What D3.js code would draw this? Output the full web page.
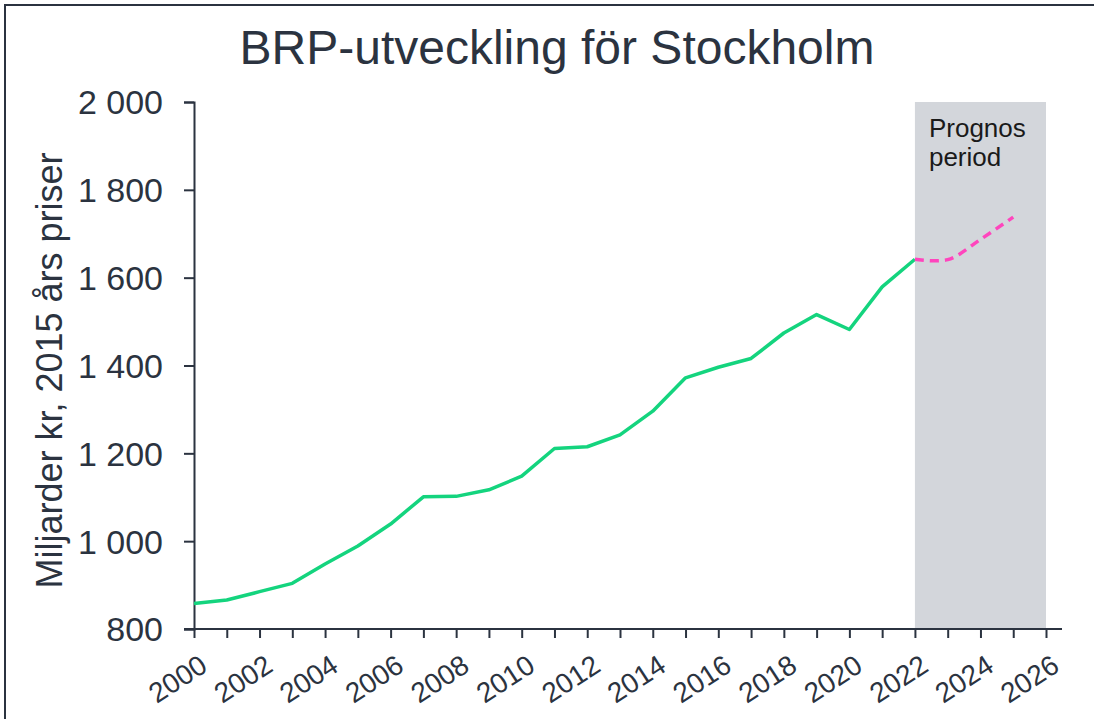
<!DOCTYPE html>
<html>
<head>
<meta charset="utf-8">
<script src="https://cdn.jsdelivr.net/npm/d3@7"></script>
<style>
  body { margin: 0; background: #fff; }
  text { font-family: "Liberation Sans", Arial, sans-serif; fill: #2b3340; }
</style>
</head>
<body>
<div id="container"></div>
<script>
// Historical BRP (billion SEK, 2015 prices)
const years = d3.range(2000, 2023);
const brp = [858, 866, 885, 904, 948, 989, 1039, 1101, 1102, 1117, 1148, 1211, 1215,
             1242, 1296, 1372, 1396, 1416, 1474, 1516, 1482, 1579, 1642];
// Forecast
const forecastYears = [2022, 2023, 2024, 2025];
const forecast = [1642, 1641, 1687, 1738];
const yTicks = [800, 1000, 1200, 1400, 1600, 1800, 2000];
const forecastPeriod = [2022, 2026];

const width = 1094, height = 719;
const margin = { top: 102, right: 48, bottom: 89, left: 194 };

const svg = d3.select("#container").append("svg")
    .attr("width", width)
    .attr("height", height);

// Outer frame
svg.append("rect")
    .attr("x", 5).attr("y", 5)
    .attr("width", width + 20).attr("height", height + 20)
    .attr("fill", "none")
    .attr("stroke", "#2b3340")
    .attr("stroke-width", 2);

const x = d3.scaleLinear()
    .domain([2000, 2026])
    .range([margin.left, 1046]);

const y = d3.scaleLinear()
    .domain([800, 2000])
    .range([height - margin.bottom - 1, margin.top]);

// Forecast shading
svg.append("rect")
    .attr("x", x(forecastPeriod[0]))
    .attr("y", y(2000))
    .attr("width", x(forecastPeriod[1]) - x(forecastPeriod[0]))
    .attr("height", y(800) - y(2000))
    .attr("fill", "#d3d6db");

svg.append("text")
    .attr("y", 137)
    .style("font-size", "26px")
    .style("fill", "#1a1a1a")
    .selectAll("tspan")
    .data(["Prognos", "period"])
    .join("tspan")
    .attr("x", x(2022) + 14)
    .attr("dy", (d, i) => i === 0 ? 0 : 29)
    .text(d => d);

// Y axis
const yAxis = svg.append("g")
    .attr("transform", `translate(${margin.left},0)`)
    .call(d3.axisLeft(y).tickValues(yTicks).tickSize(10).tickPadding(21)
        .tickFormat(d => d3.format(",")(d).replace(",", " ")));
yAxis.select(".domain").attr("stroke", "#2b3340").attr("stroke-width", 2);
yAxis.selectAll(".tick line").attr("stroke", "#2b3340").attr("stroke-width", 2);
yAxis.selectAll(".tick text")
    .style("font-size", "34px")
    .style("fill", "#2b3340")
    .attr("dy", "0.35em");

// X axis
const xAxis = svg.append("g")
    .attr("transform", `translate(0,${y(800)})`)
    .call(d3.axisBottom(x).ticks(26).tickSize(9).tickSizeOuter(0)
        .tickFormat(d => d % 2 === 0 ? d : ""));
xAxis.select(".domain").remove();
xAxis.append("line")
    .attr("x1", margin.left - 10).attr("x2", 1062)
    .attr("stroke", "#2b3340").attr("stroke-width", 2);
xAxis.selectAll(".tick line").attr("stroke", "#2b3340").attr("stroke-width", 2);
xAxis.selectAll(".tick text")
    .style("font-size", "28px")
    .style("fill", "#2b3340")
    .style("text-anchor", "end")
    .attr("dy", 0)
    .attr("transform", "translate(8,31) rotate(-33)");

// Y axis label
svg.append("text")
    .attr("transform", `translate(62,${(y(800) + y(2000)) / 2 + 5}) rotate(-90)`)
    .style("text-anchor", "middle")
    .style("font-size", "36px")
    .text("Miljarder kr, 2015 års priser");

// Title
svg.append("text")
    .attr("x", 557)
    .attr("y", 64)
    .style("text-anchor", "middle")
    .style("font-size", "48px")
    .text("BRP-utveckling för Stockholm");

// Historical line
const line = d3.line()
    .x(d => x(d[0]))
    .y(d => y(d[1]));

svg.append("path")
    .datum(years.map((yr, i) => [yr, brp[i]]))
    .attr("fill", "none")
    .attr("stroke", "#14d47e")
    .attr("stroke-width", 3.5)
    .attr("stroke-linejoin", "round")
    .attr("d", line);

// Forecast line
svg.append("path")
    .datum(forecastYears.map((yr, i) => [yr, forecast[i]]))
    .attr("fill", "none")
    .attr("stroke", "#ff45bd")
    .attr("stroke-width", 3.5)
    .attr("stroke-dasharray", "9,6")
    .attr("d", line.curve(d3.curveCatmullRom));
</script>
</body>
</html>
